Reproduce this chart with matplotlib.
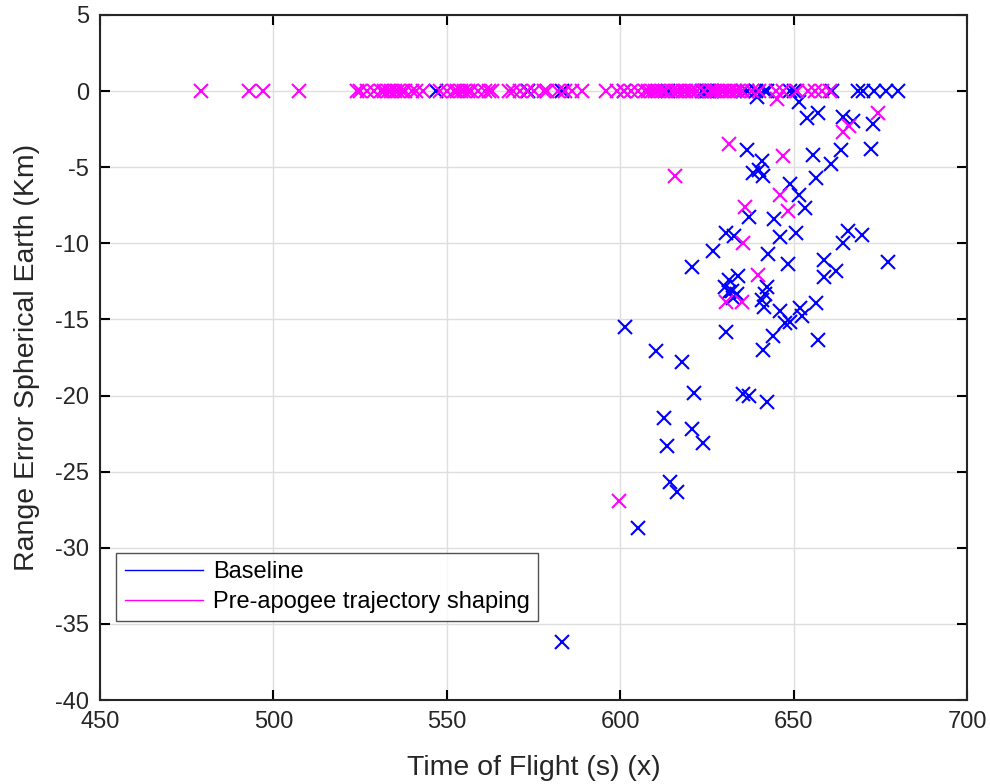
import numpy as np
import matplotlib
matplotlib.use('Agg')
import matplotlib.pyplot as plt
from matplotlib.lines import Line2D

plt.rcParams['font.family'] = ['Liberation Sans', 'DejaVu Sans']
plt.rcParams['axes.unicode_minus'] = False

# points sitting on the zero line
base_zero_x = [547, 573.5, 583.3, 601, 613.8, 623.5, 624.3, 625, 625.7, 626.5,
               635.5, 636.6, 639, 641.8, 642.4, 649, 650, 661, 668.4, 670,
               673, 676.5, 680]
shape_zero_x = [479, 493, 497, 507.5, 524, 525, 527, 529, 531, 532, 533, 534,
                535, 536, 537, 538, 540, 541, 543, 548, 550, 552, 553, 554,
                555, 556, 557, 559, 561, 562, 563, 568, 569, 571, 573, 575,
                578, 579, 582, 584, 586, 589, 596, 599, 601, 603, 605, 607,
                608, 609, 610, 611, 612, 613, 615, 616, 617, 618, 619, 620,
                621, 622, 624, 626, 627, 628, 629, 630, 631, 632, 633, 634,
                635, 638, 640, 645, 647, 651, 654, 656, 658, 660.5]

# points with a range error
base_tof = [651.6, 639.5, 653.9, 657.1, 664.3, 667.2, 672.7, 636.6, 655.4, 663.7,
            672.4, 660.6, 640.7, 638.3, 640.0, 641.2, 656.5, 648.8, 651.6, 653.3,
            637.2, 644.4, 646.1, 650.7, 665.5, 669.8, 664.3, 630.6, 632.9, 626.8,
            642.6, 620.7, 648.2, 658.8, 677.3, 662.3, 658.8, 631.2, 634.0, 630.3,
            632.3, 633.7, 631.2, 632.6, 642.4, 641.8, 640.9, 641.5, 646.1, 651.9,
            656.5, 601.4, 630.6, 644.1, 641.2, 647.6, 649.0, 652.5, 657.1, 610.4,
            617.8, 621.1, 635.5, 637.2, 642.4, 612.7, 620.7, 623.9, 613.5, 614.4,
            616.4, 605.0, 583.3]
base_err = [-0.7, -0.4, -1.76, -1.43, -1.7, -2.0, -2.15, -3.86, -4.2, -3.9,
            -3.8, -4.8, -4.6, -5.4, -5.2, -5.6, -5.7, -6.1, -6.8, -7.7,
            -8.3, -8.4, -9.6, -9.3, -9.2, -9.45, -10.0, -9.3, -9.55, -10.5,
            -10.7, -11.55, -11.35, -11.1, -11.2, -11.8, -12.2, -12.4, -12.15, -12.85,
            -13.1, -13.3, -13.2, -13.6, -12.9, -13.3, -13.75, -14.2, -14.45, -14.25,
            -13.9, -15.5, -15.8, -16.1, -17.0, -15.25, -15.2, -14.8, -16.35, -17.1,
            -17.8, -19.8, -19.9, -20.05, -20.4, -21.5, -22.2, -23.1, -23.3, -25.7,
            -26.35, -28.7, -36.2]

shape_tof = [645.3, 664.3, 666.0, 674.4, 631.4, 647.0, 615.9, 646.0, 648.2,
             635.8, 635.5, 639.8, 630.6, 635.2, 599.7]
shape_err = [-0.53, -2.7, -2.3, -1.43, -3.47, -4.25, -5.56, -6.8, -7.9,
             -7.6, -10.0, -12.1, -13.85, -13.85, -26.9]

blue = '#0000ff'
magenta = '#ff00ff'
dark = '#262626'

fig = plt.figure(figsize=(9.9, 7.84), dpi=100)
ax = fig.add_axes([0.101, 0.107, 0.876, 0.874])

mk = dict(linestyle='none', marker='x', markersize=10, markeredgewidth=1.5)
ax.plot(base_zero_x, np.zeros(len(base_zero_x)), color=blue, **mk)
ax.plot(base_tof, base_err, color=blue, **mk)
ax.plot(shape_zero_x, np.zeros(len(shape_zero_x)), color=magenta, **mk)
ax.plot(shape_tof, shape_err, color=magenta, **mk)

ax.set_xlim(450, 700)
ax.set_ylim(-40, 5)
ax.set_xticks(np.arange(450, 701, 50))
ax.set_yticks(np.arange(-40, 6, 5))
ax.grid(True, color='#dedede', linewidth=1)
ax.set_axisbelow(True)
ax.tick_params(direction='in', length=7, width=1.5, top=True, right=True,
               labelsize=17, labelcolor=dark, pad=8)
for s in ax.spines.values():
    s.set_linewidth(1.5)
    s.set_color(dark)

ax.set_xlabel('Time of Flight (s) (x)', fontsize=20.5, color=dark, labelpad=16)
ax.set_ylabel('Range Error Spherical Earth (Km)', fontsize=20.5, color=dark, labelpad=11)

handles = [Line2D([], [], color=blue, linewidth=1),
           Line2D([], [], color=magenta, linewidth=1)]
leg = ax.legend(handles, ['Baseline', 'Pre-apogee trajectory shaping'],
                loc='lower left', bbox_to_anchor=(0.019, 0.115), fontsize=17,
                frameon=True, fancybox=False, edgecolor=dark,
                handlelength=3.3, borderpad=0.35, labelspacing=0.35,
                handletextpad=0.45, borderaxespad=0)
leg.get_frame().set_linewidth(1.0)

fig.savefig('out.png', dpi=100)
